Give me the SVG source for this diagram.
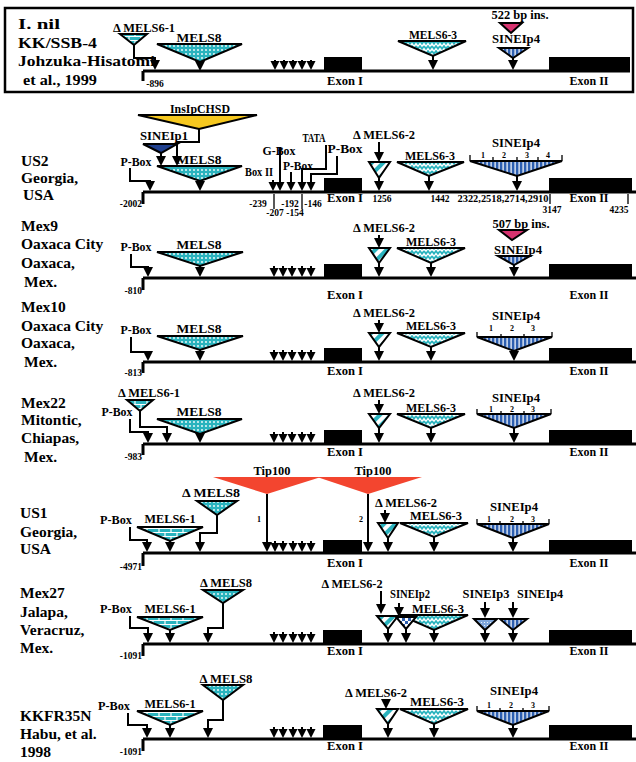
<svg xmlns="http://www.w3.org/2000/svg" width="636" height="762" viewBox="0 0 636 762">
<style>
text{font-family:"Liberation Serif","Times New Roman",serif;font-weight:bold;fill:#000}
.rl{font-size:15.5px}
.el{font-size:13px;text-anchor:middle}
.nm{font-size:9.5px;text-anchor:middle}
.ne{font-size:9.5px;text-anchor:end}
.sn{font-size:8px;text-anchor:middle}
.c{fill:none;stroke:#000;stroke-width:2}
.bl{fill:none;stroke:#000;stroke-width:3}
.tk{fill:none;stroke:#000;stroke-width:1.3}
.tri{stroke:#000;stroke-width:2;stroke-linejoin:miter}
.ex{fill:#000}
</style>
<defs>
<pattern id="dots" width="4" height="4" patternUnits="userSpaceOnUse"><rect width="4" height="4" fill="#2ab3be"/><circle cx="2" cy="2" r="0.9" fill="#fff"/></pattern>
<pattern id="brick" width="12" height="8" patternUnits="userSpaceOnUse"><rect width="12" height="8" fill="#2ab3be"/><path d="M0,0.5H12M0,4.5H12M3,0.5V4.5M9,4.5V8.5" stroke="#fff" stroke-width="1.2"/></pattern>
<pattern id="wave" width="8" height="5" patternUnits="userSpaceOnUse"><rect width="8" height="5" fill="#fff"/><path d="M0,1 L2,3.8 L4,1 L6,3.8 L8,1" fill="none" stroke="#2ab3be" stroke-width="1.7"/></pattern>
<pattern id="diag" width="8" height="8" patternUnits="userSpaceOnUse" patternTransform="rotate(45)"><rect width="8" height="8" fill="#fff"/><rect width="4" height="8" fill="#2ab3be"/></pattern>
<pattern id="vstr" width="4" height="4" patternUnits="userSpaceOnUse"><rect width="4" height="4" fill="#2d5fb0"/><rect x="2.5" width="1.2" height="4" fill="#fff"/></pattern>
<pattern id="chk" width="6" height="6" patternUnits="userSpaceOnUse"><rect width="6" height="6" fill="#fff"/><rect width="3" height="3" fill="#2d5fb0"/><rect x="3" y="3" width="3" height="3" fill="#2d5fb0"/></pattern>
<pattern id="ldot" width="3" height="3" patternUnits="userSpaceOnUse"><rect width="3" height="3" fill="#7fa7dc"/><circle cx="1.5" cy="1.5" r="0.6" fill="#fff"/></pattern>
<path id="ah" d="M-5,-10H5L0,0Z"/>
<path id="sa" d="M-4.5,-9H4.5L0,0Z"/>
</defs>
<rect width="636" height="762" fill="#fff"/>

<!-- Row 1: I. nil -->
<g id="r1">
<rect x="5" y="8" width="628" height="84" fill="none" stroke="#000" stroke-width="2.5"/>
<g id="r1-name">
<text class="rl" x="18" y="29" textLength="42" lengthAdjust="spacingAndGlyphs">I. nil</text>
<text class="rl" x="18" y="48" textLength="79" lengthAdjust="spacingAndGlyphs">KK/SSB-4</text>
<text class="rl" x="18" y="66" textLength="137" lengthAdjust="spacingAndGlyphs">Johzuka-Hisatomi</text>
<text class="rl" x="23" y="85" textLength="74" lengthAdjust="spacingAndGlyphs">et al., 1999</text>
</g>
<g id="r1-gene">
<path class="bl" d="M143,71H630M143,71V81"/>
<text class="nm" x="155" y="87">-896</text>
<rect class="ex" x="324" y="57" width="38" height="14"/><text class="el" x="345" y="85" textLength="36" lengthAdjust="spacingAndGlyphs">Exon I</text>
<rect class="ex" x="549" y="57" width="81" height="14"/><text class="el" x="589" y="85" textLength="39" lengthAdjust="spacingAndGlyphs">Exon II</text>
</g>
<g id="r1-dmels61"><text class="el" x="144" y="32" textLength="62" lengthAdjust="spacingAndGlyphs">Δ MELS6-1</text><polygon class="tri" fill="url(#brick)" points="120,34 147,34 134,45"/></g>
<g id="r1-mels8"><text class="el" x="199" y="42" textLength="45" lengthAdjust="spacingAndGlyphs">MELS8</text><polygon class="tri" fill="url(#dots)" points="157,44 242,44 200,62"/></g>
<g id="r1-mels63"><text class="el" x="433" y="39" textLength="48" lengthAdjust="spacingAndGlyphs">MELS6-3</text><polygon class="tri" fill="url(#wave)" points="398,41 466,41 433,56"/></g>
<g id="r1-ins522"><text class="el" x="520" y="19" textLength="57" lengthAdjust="spacingAndGlyphs">522 bp ins.</text><polygon class="tri" fill="#d6336f" points="500,23 522,23 511,33"/></g>
<g id="r1-sinei4"><text class="el" x="516" y="43" textLength="48" lengthAdjust="spacingAndGlyphs">SINEIp4</text><polygon class="tri" fill="url(#vstr)" points="499,48 528,48 513,58"/></g>
</g>

<!-- Row 2: US2 -->
<g id="r2">
<g id="r2-name"><text class="rl" x="21" y="166">US2</text><text class="rl" x="21" y="183">Georgia,</text><text class="rl" x="23" y="200">USA</text></g>
<g id="r2-gene">
<path class="bl" d="M143,192H636M143,192V204"/>
<text class="ne" x="142" y="207">-2002</text>
<rect class="ex" x="324" y="178" width="38" height="14"/><text class="el" x="345" y="202" textLength="36" lengthAdjust="spacingAndGlyphs">Exon I</text>
<rect class="ex" x="549" y="178" width="83" height="14"/><text class="el" x="589" y="202" textLength="39" lengthAdjust="spacingAndGlyphs">Exon II</text>
<path class="tk" d="M274,194V209M302,194V209M550,194V204M628,194V204"/>
<text class="nm" x="258" y="207">-239</text><text class="nm" x="290" y="207">-192</text><text class="nm" x="313" y="207">-146</text>
<text class="nm" x="275" y="216">-207</text><text class="nm" x="295" y="216">-154</text>
<text class="nm" x="382" y="202">1256</text><text class="nm" x="440" y="202">1442</text>
<text class="nm" x="503" y="202" textLength="91" lengthAdjust="spacingAndGlyphs">2322,2518,2714,2910</text>
<text class="nm" x="552" y="213">3147</text><text class="nm" x="619" y="213">4235</text>
</g>
<g id="r2-inschsd"><text class="el" x="200" y="113" textLength="60" lengthAdjust="spacingAndGlyphs">InsIpCHSD</text><polygon class="tri" fill="#f6c81f" points="138,115 257,115 199,129"/></g>
<g id="r2-sinei1"><text class="el" x="164" y="140" textLength="48" lengthAdjust="spacingAndGlyphs">SINEIp1</text><polygon class="tri" fill="#1f3f8e" points="143,144 177,144 161,153"/></g>
<g id="r2-pbox1"><text class="el" x="136" y="166" textLength="31" lengthAdjust="spacingAndGlyphs">P-Box</text></g>
<g id="r2-mels8"><text class="el" x="199" y="164" textLength="45" lengthAdjust="spacingAndGlyphs">MELS8</text><polygon class="tri" fill="url(#dots)" points="157,166 242,166 200,181"/></g>
<g id="r2-box2"><text class="el" x="259" y="176" textLength="28" lengthAdjust="spacingAndGlyphs">Box II</text></g>
<g id="r2-gbox"><text class="el" x="279" y="155" textLength="33" lengthAdjust="spacingAndGlyphs">G-Box</text></g>
<g id="r2-pbox2"><text class="el" x="298" y="170" textLength="30" lengthAdjust="spacingAndGlyphs">P-Box</text></g>
<g id="r2-tata"><text class="el" x="314" y="142" textLength="23" lengthAdjust="spacingAndGlyphs">TATA</text></g>
<g id="r2-pbox3"><text class="el" x="345" y="153" textLength="35" lengthAdjust="spacingAndGlyphs">P-Box</text></g>
<g id="r2-dmels62"><text class="el" x="384" y="139" textLength="62" lengthAdjust="spacingAndGlyphs">Δ MELS6-2</text><polygon class="tri" fill="url(#diag)" points="369,162 390,162 379,178"/></g>
<g id="r2-mels63"><text class="el" x="430" y="160" textLength="50" lengthAdjust="spacingAndGlyphs">MELS6-3</text><polygon class="tri" fill="url(#wave)" points="397,162 464,162 429,176"/></g>
<g id="r2-sinei4"><text class="el" x="516" y="147" textLength="48" lengthAdjust="spacingAndGlyphs">SINEIp4</text><polygon class="tri" fill="url(#vstr)" points="470,161 562,161 517,176"/>
<path class="tk" d="M470,155V161M562,155V161M493,157V161M517,157V161M538,157V161"/>
<text class="sn" x="483" y="158">1</text><text class="sn" x="504" y="158">2</text><text class="sn" x="527" y="158">3</text><text class="sn" x="548" y="158">4</text></g>
</g>

<!-- Row 3: Mex9 -->
<g id="r3">
<g id="r3-name"><text class="rl" x="21" y="231">Mex9</text><text class="rl" x="21" y="249">Oaxaca City</text><text class="rl" x="21" y="268">Oaxaca,</text><text class="rl" x="24" y="287">Mex.</text></g>
<g id="r3-gene">
<path class="bl" d="M143,278H636M143,278V290"/>
<text class="ne" x="142" y="294">-810</text>
<rect class="ex" x="324" y="264" width="38" height="14"/><text class="el" x="345" y="299" textLength="36" lengthAdjust="spacingAndGlyphs">Exon I</text>
<rect class="ex" x="549" y="264" width="83" height="14"/><text class="el" x="589" y="299" textLength="39" lengthAdjust="spacingAndGlyphs">Exon II</text>
</g>
<g id="r3-pbox"><text class="el" x="136" y="251" textLength="31" lengthAdjust="spacingAndGlyphs">P-Box</text></g>
<g id="r3-mels8"><text class="el" x="199" y="249" textLength="45" lengthAdjust="spacingAndGlyphs">MELS8</text><polygon class="tri" fill="url(#dots)" points="157,252 243,252 200,266"/></g>
<g id="r3-dmels62"><text class="el" x="384" y="232" textLength="62" lengthAdjust="spacingAndGlyphs">Δ MELS6-2</text><polygon class="tri" fill="url(#diag)" points="369,248 390,248 379,263"/></g>
<g id="r3-mels63"><text class="el" x="431" y="246" textLength="50" lengthAdjust="spacingAndGlyphs">MELS6-3</text><polygon class="tri" fill="url(#wave)" points="397,248 465,248 431,263"/></g>
<g id="r3-ins507"><text class="el" x="521" y="228" textLength="57" lengthAdjust="spacingAndGlyphs">507 bp ins.</text><polygon class="tri" fill="#d6336f" points="499,230 527,230 512,240"/></g>
<g id="r3-sinei4"><text class="el" x="518" y="254" textLength="48" lengthAdjust="spacingAndGlyphs">SINEIp4</text><polygon class="tri" fill="url(#vstr)" points="498,256 530,256 514,265"/></g>
</g>

<!-- Row 4: Mex10 -->
<g id="r4">
<g id="r4-name"><text class="rl" x="21" y="312">Mex10</text><text class="rl" x="21" y="331">Oaxaca City</text><text class="rl" x="21" y="348">Oaxaca,</text><text class="rl" x="24" y="367">Mex.</text></g>
<g id="r4-gene">
<path class="bl" d="M143,362H636M143,362V373"/>
<text class="ne" x="142" y="376">-813</text>
<rect class="ex" x="324" y="348" width="38" height="14"/><text class="el" x="345" y="375" textLength="36" lengthAdjust="spacingAndGlyphs">Exon I</text>
<rect class="ex" x="549" y="348" width="83" height="14"/><text class="el" x="589" y="375" textLength="39" lengthAdjust="spacingAndGlyphs">Exon II</text>
</g>
<g id="r4-pbox"><text class="el" x="136" y="334" textLength="31" lengthAdjust="spacingAndGlyphs">P-Box</text></g>
<g id="r4-mels8"><text class="el" x="199" y="333" textLength="45" lengthAdjust="spacingAndGlyphs">MELS8</text><polygon class="tri" fill="url(#dots)" points="157,336 243,336 200,350"/></g>
<g id="r4-dmels62"><text class="el" x="384" y="317" textLength="62" lengthAdjust="spacingAndGlyphs">Δ MELS6-2</text><polygon class="tri" fill="url(#diag)" points="369,333 390,333 379,347"/></g>
<g id="r4-mels63"><text class="el" x="431" y="330" textLength="50" lengthAdjust="spacingAndGlyphs">MELS6-3</text><polygon class="tri" fill="url(#wave)" points="397,333 465,333 431,347"/></g>
<g id="r4-sinei4"><text class="el" x="516" y="320" textLength="48" lengthAdjust="spacingAndGlyphs">SINEIp4</text><polygon class="tri" fill="url(#vstr)" points="477,337 552,337 514,351"/>
<path class="tk" d="M477,332V337M552,332V337M501,334V337M524,334V337"/>
<text class="sn" x="491" y="331">1</text><text class="sn" x="512" y="331">2</text><text class="sn" x="533" y="331">3</text></g>
</g>

<!-- Row 5: Mex22 -->
<g id="r5">
<g id="r5-name"><text class="rl" x="21" y="408">Mex22</text><text class="rl" x="21" y="425">Mitontic,</text><text class="rl" x="21" y="443">Chiapas,</text><text class="rl" x="24" y="462">Mex.</text></g>
<g id="r5-gene">
<path class="bl" d="M143,444H636M143,444V455"/>
<text class="ne" x="142" y="460">-983</text>
<rect class="ex" x="324" y="430" width="38" height="14"/><text class="el" x="345" y="456" textLength="36" lengthAdjust="spacingAndGlyphs">Exon I</text>
<rect class="ex" x="549" y="430" width="83" height="14"/><text class="el" x="589" y="456" textLength="39" lengthAdjust="spacingAndGlyphs">Exon II</text>
</g>
<g id="r5-dmels61"><text class="el" x="149" y="397" textLength="62" lengthAdjust="spacingAndGlyphs">Δ MELS6-1</text><polygon class="tri" fill="url(#brick)" points="127,400 153,400 140,411"/></g>
<g id="r5-pbox"><text class="el" x="117" y="416" textLength="31" lengthAdjust="spacingAndGlyphs">P-Box</text></g>
<g id="r5-mels8"><text class="el" x="199" y="416" textLength="45" lengthAdjust="spacingAndGlyphs">MELS8</text><polygon class="tri" fill="url(#dots)" points="157,419 242,419 200,434"/></g>
<g id="r5-dmels62"><text class="el" x="384" y="397" textLength="62" lengthAdjust="spacingAndGlyphs">Δ MELS6-2</text><polygon class="tri" fill="url(#diag)" points="369,414 390,414 379,428"/></g>
<g id="r5-mels63"><text class="el" x="431" y="412" textLength="50" lengthAdjust="spacingAndGlyphs">MELS6-3</text><polygon class="tri" fill="url(#wave)" points="397,414 465,414 431,428"/></g>
<g id="r5-sinei4"><text class="el" x="516" y="402" textLength="48" lengthAdjust="spacingAndGlyphs">SINEIp4</text><polygon class="tri" fill="url(#vstr)" points="477,414 551,414 514,428"/>
<path class="tk" d="M477,409V414M551,409V414M501,411V414M524,411V414"/>
<text class="sn" x="491" y="412">1</text><text class="sn" x="512" y="412">2</text><text class="sn" x="533" y="412">3</text></g>
</g>

<!-- Row 6: US1 -->
<g id="r6">
<g id="r6-name"><text class="rl" x="20" y="518">US1</text><text class="rl" x="20" y="537">Georgia,</text><text class="rl" x="20" y="554">USA</text></g>
<g id="r6-gene">
<path class="bl" d="M143,553H636M143,553V566"/>
<text class="ne" x="142" y="570">-4971</text>
<rect class="ex" x="323" y="540" width="39" height="13"/><text class="el" x="345" y="567" textLength="36" lengthAdjust="spacingAndGlyphs">Exon I</text>
<rect class="ex" x="549" y="540" width="83" height="13"/><text class="el" x="589" y="567" textLength="39" lengthAdjust="spacingAndGlyphs">Exon II</text>
</g>
<g id="r6-tip1"><text class="el" x="272" y="475" textLength="37" lengthAdjust="spacingAndGlyphs">Tip100</text><polygon fill="#f3452f" points="213,477 321,477 267,494"/><text class="sn" x="259" y="522">1</text></g>
<g id="r6-tip2"><text class="el" x="373" y="475" textLength="37" lengthAdjust="spacingAndGlyphs">Tip100</text><polygon fill="#f3452f" points="317,477 422,477 368,494"/><text class="sn" x="361" y="522">2</text></g>
<g id="r6-dmels8"><text class="el" x="211" y="497" textLength="58" lengthAdjust="spacingAndGlyphs">Δ MELS8</text><polygon class="tri" fill="url(#dots)" points="197,501 237,501 217,515"/></g>
<g id="r6-mels61"><text class="el" x="170" y="523" textLength="51" lengthAdjust="spacingAndGlyphs">MELS6-1</text><polygon class="tri" fill="url(#brick)" points="137,527 203,527 170,541"/></g>
<g id="r6-pbox"><text class="el" x="116" y="524" textLength="32" lengthAdjust="spacingAndGlyphs">P-Box</text></g>
<g id="r6-dmels62"><text class="el" x="406" y="507" textLength="62" lengthAdjust="spacingAndGlyphs">Δ MELS6-2</text><polygon class="tri" fill="url(#diag)" points="378,523 398,523 388,538"/></g>
<g id="r6-mels63"><text class="el" x="436" y="520" textLength="52" lengthAdjust="spacingAndGlyphs">MELS6-3</text><polygon class="tri" fill="url(#wave)" points="400,523 468,523 434,537"/></g>
<g id="r6-sinei4"><text class="el" x="514" y="511" textLength="48" lengthAdjust="spacingAndGlyphs">SINEIp4</text><polygon class="tri" fill="url(#vstr)" points="477,524 549,524 513,538"/>
<path class="tk" d="M477,519V524M549,519V524M500,521V524M523,521V524"/>
<text class="sn" x="489" y="522">1</text><text class="sn" x="512" y="522">2</text><text class="sn" x="533" y="522">3</text></g>
</g>

<!-- Row 7: Mex27 -->
<g id="r7">
<g id="r7-name"><text class="rl" x="20" y="598">Mex27</text><text class="rl" x="20" y="617">Jalapa,</text><text class="rl" x="20" y="635">Veracruz,</text><text class="rl" x="20" y="653">Mex.</text></g>
<g id="r7-gene">
<path class="bl" d="M143,644H636M143,644V656"/>
<text class="ne" x="142" y="659">-1091</text>
<rect class="ex" x="323" y="630" width="39" height="14"/><text class="el" x="345" y="655" textLength="36" lengthAdjust="spacingAndGlyphs">Exon I</text>
<rect class="ex" x="549" y="630" width="83" height="14"/><text class="el" x="589" y="655" textLength="39" lengthAdjust="spacingAndGlyphs">Exon II</text>
</g>
<g id="r7-dmels8"><text class="el" x="226" y="587" textLength="52" lengthAdjust="spacingAndGlyphs">Δ MELS8</text><polygon class="tri" fill="url(#dots)" points="203,590 243,590 223,603"/></g>
<g id="r7-mels61"><text class="el" x="170" y="613" textLength="51" lengthAdjust="spacingAndGlyphs">MELS6-1</text><polygon class="tri" fill="url(#brick)" points="137,617 203,617 170,630"/></g>
<g id="r7-pbox"><text class="el" x="116" y="613" textLength="32" lengthAdjust="spacingAndGlyphs">P-Box</text></g>
<g id="r7-mels63"><text class="el" x="438" y="613" textLength="52" lengthAdjust="spacingAndGlyphs">MELS6-3</text><polygon class="tri" fill="url(#wave)" points="400,615 468,615 434,630"/></g>
<g id="r7-dmels62"><text class="el" x="352" y="588" textLength="61" lengthAdjust="spacingAndGlyphs">Δ MELS6-2</text><polygon class="tri" fill="url(#diag)" points="377,616 398,616 388,629"/></g>
<g id="r7-sinei2"><text class="el" x="410" y="598" textLength="40" lengthAdjust="spacingAndGlyphs">SINEIp2</text><polygon class="tri" fill="url(#chk)" points="396,617 416,617 406,629"/></g>
<g id="r7-sinei3"><text class="el" x="486" y="598" textLength="47" lengthAdjust="spacingAndGlyphs">SINEIp3</text><polygon class="tri" fill="url(#ldot)" points="474,619 497,619 485,630"/></g>
<g id="r7-sinei4"><text class="el" x="540" y="598" textLength="46" lengthAdjust="spacingAndGlyphs">SINEIp4</text><polygon class="tri" fill="url(#vstr)" points="500,619 527,619 513,630"/></g>
</g>

<!-- Row 8: KKFR35N -->
<g id="r8">
<g id="r8-name"><text class="rl" x="20" y="721">KKFR35N</text><text class="rl" x="20" y="739">Habu, et al.</text><text class="rl" x="20" y="757">1998</text></g>
<g id="r8-gene">
<path class="bl" d="M143,739H636M143,739V751"/>
<text class="ne" x="142" y="755">-1091</text>
<rect class="ex" x="323" y="725" width="39" height="14"/><text class="el" x="345" y="750" textLength="36" lengthAdjust="spacingAndGlyphs">Exon I</text>
<rect class="ex" x="549" y="725" width="83" height="14"/><text class="el" x="589" y="750" textLength="39" lengthAdjust="spacingAndGlyphs">Exon II</text>
</g>
<g id="r8-dmels8"><text class="el" x="226" y="683" textLength="53" lengthAdjust="spacingAndGlyphs">Δ MELS8</text><polygon class="tri" fill="url(#dots)" points="203,685 243,685 223,700"/></g>
<g id="r8-mels61"><text class="el" x="170" y="708" textLength="51" lengthAdjust="spacingAndGlyphs">MELS6-1</text><polygon class="tri" fill="url(#brick)" points="137,711 203,711 170,725"/></g>
<g id="r8-pbox"><text class="el" x="114" y="710" textLength="32" lengthAdjust="spacingAndGlyphs">P-Box</text></g>
<g id="r8-dmels62"><text class="el" x="376" y="697" textLength="62" lengthAdjust="spacingAndGlyphs">Δ MELS6-2</text><polygon class="tri" fill="url(#diag)" points="377,709 398,709 388,724"/></g>
<g id="r8-mels63"><text class="el" x="437" y="706" textLength="54" lengthAdjust="spacingAndGlyphs">MELS6-3</text><polygon class="tri" fill="url(#wave)" points="400,709 468,709 434,724"/></g>
<g id="r8-sinei4"><text class="el" x="514" y="695" textLength="48" lengthAdjust="spacingAndGlyphs">SINEIp4</text><polygon class="tri" fill="url(#vstr)" points="477,711 549,711 513,725"/>
<path class="tk" d="M477,706V711M549,706V711M500,708V711M523,708V711"/>
<text class="sn" x="489" y="708">1</text><text class="sn" x="511" y="708">2</text><text class="sn" x="533" y="708">3</text></g>
</g>

<!-- Connectors -->
<g id="connectors">
<path class="c" d="M134,45V58H155V62M433,56V62M513,58V62M275,60V64M284,60V64M293,60V64M302,60V64M311,60V64"/>
<use href="#ah" x="155" y="70"/><use href="#ah" x="200" y="71"/><use href="#ah" x="433" y="70"/><use href="#ah" x="513" y="70"/>
<use href="#sa" x="275" y="70"/><use href="#sa" x="284" y="70"/><use href="#sa" x="293" y="70"/><use href="#sa" x="302" y="70"/><use href="#sa" x="311" y="70"/>

<path class="c" d="M199,129V142H177V157M161,153V157M130,168V181H150V183M200,181V183M273,180V184M280,147V184M291,172V184M326,145V169H302V184M337,156V174H311V184M379,142V153M379,178V183M429,176V183M517,176V183"/>
<use href="#ah" x="177" y="166"/><use href="#ah" x="161" y="166"/><use href="#ah" x="150" y="191"/><use href="#ah" x="200" y="191"/>
<use href="#sa" x="273" y="191"/><use href="#sa" x="280" y="191"/><use href="#sa" x="291" y="191"/><use href="#sa" x="302" y="191"/><use href="#sa" x="311" y="191"/>
<use href="#ah" x="379" y="162"/><use href="#ah" x="379" y="191"/><use href="#ah" x="429" y="191"/><use href="#ah" x="517" y="191"/>

<path class="c" d="M131,254V267H148V269M200,266V269M274,266V270M283,266V270M292,266V270M302,266V270M311,266V270M379,235V239M379,263V269M431,263V269M514,265V269"/>
<use href="#ah" x="148" y="277"/><use href="#ah" x="200" y="277"/>
<use href="#sa" x="274" y="277"/><use href="#sa" x="283" y="277"/><use href="#sa" x="292" y="277"/><use href="#sa" x="302" y="277"/><use href="#sa" x="311" y="277"/>
<use href="#ah" x="379" y="248"/><use href="#ah" x="379" y="277"/><use href="#ah" x="431" y="277"/><use href="#ah" x="514" y="277"/>

<path class="c" d="M131,337V352H148V353M200,350V353M274,350V354M283,350V354M292,350V354M302,350V354M311,350V354M379,320V324M379,347V353M431,347V353M514,351V353"/>
<use href="#ah" x="148" y="361"/><use href="#ah" x="200" y="361"/>
<use href="#sa" x="274" y="361"/><use href="#sa" x="283" y="361"/><use href="#sa" x="292" y="361"/><use href="#sa" x="302" y="361"/><use href="#sa" x="311" y="361"/>
<use href="#ah" x="379" y="333"/><use href="#ah" x="379" y="361"/><use href="#ah" x="431" y="361"/><use href="#ah" x="514" y="361"/>

<path class="c" d="M140,411V427H167V435M130,419V432H148V435M200,434V435M274,432V436M283,432V436M292,432V436M302,432V436M311,432V436M379,400V405M379,428V435M431,428V435M514,428V435"/>
<use href="#ah" x="167" y="443"/><use href="#ah" x="148" y="443"/><use href="#ah" x="200" y="443"/>
<use href="#sa" x="274" y="443"/><use href="#sa" x="283" y="443"/><use href="#sa" x="292" y="443"/><use href="#sa" x="302" y="443"/><use href="#sa" x="311" y="443"/>
<use href="#ah" x="379" y="414"/><use href="#ah" x="379" y="443"/><use href="#ah" x="431" y="443"/><use href="#ah" x="514" y="443"/>

<path class="c" d="M267,494V544M368,494V544M217,515V533H200V544M170,541V544M130,527V540H147V544M275,541V545M283,541V545M293,541V545M302,541V545M311,541V545M385,510V514M388,538V544M434,537V544M513,538V544"/>
<use href="#ah" x="267" y="552"/><use href="#ah" x="368" y="552"/><use href="#ah" x="200" y="552"/><use href="#ah" x="170" y="552"/><use href="#ah" x="147" y="552"/>
<use href="#sa" x="275" y="552"/><use href="#sa" x="283" y="552"/><use href="#sa" x="293" y="552"/><use href="#sa" x="302" y="552"/><use href="#sa" x="311" y="552"/>
<use href="#ah" x="385" y="523"/><use href="#ah" x="388" y="552"/><use href="#ah" x="434" y="552"/><use href="#ah" x="513" y="552"/>

<path class="c" d="M223,603V628H208V635M170,630V635M130,616V628H148V635M274,632V636M283,632V636M293,632V636M302,632V636M311,632V636M381,591V605M399,603V608M485,602V609M513,602V609M388,629V635M406,629V635M434,630V635M485,630V635M513,630V635"/>
<use href="#ah" x="208" y="643"/><use href="#ah" x="170" y="643"/><use href="#ah" x="148" y="643"/>
<use href="#sa" x="274" y="643"/><use href="#sa" x="283" y="643"/><use href="#sa" x="293" y="643"/><use href="#sa" x="302" y="643"/><use href="#sa" x="311" y="643"/>
<use href="#ah" x="381" y="614"/><use href="#ah" x="399" y="617"/><use href="#ah" x="485" y="618"/><use href="#ah" x="513" y="618"/>
<use href="#ah" x="388" y="643"/><use href="#ah" x="406" y="643"/><use href="#ah" x="434" y="643"/><use href="#ah" x="485" y="643"/><use href="#ah" x="513" y="643"/>

<path class="c" d="M223,700V720H208V730M170,725V730M128,713V725H147V730M274,727V731M283,727V731M293,727V731M302,727V731M311,727V731M388,724V730M434,724V730M513,725V730"/>
<use href="#ah" x="208" y="738"/><use href="#ah" x="170" y="738"/><use href="#ah" x="147" y="738"/>
<use href="#sa" x="274" y="738"/><use href="#sa" x="283" y="738"/><use href="#sa" x="293" y="738"/><use href="#sa" x="302" y="738"/><use href="#sa" x="311" y="738"/>
<use href="#ah" x="386" y="709"/><use href="#ah" x="388" y="738"/><use href="#ah" x="434" y="738"/><use href="#ah" x="513" y="738"/>
</g>
</svg>
